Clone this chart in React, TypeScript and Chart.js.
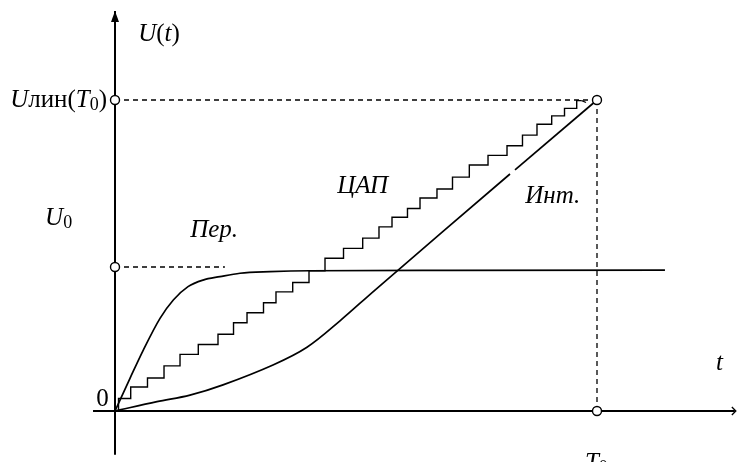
import React, { useEffect, useRef } from "react";
import { Chart, registerables } from "chart.js";

Chart.register(...registerables);

// Normalised units: t / T0 and U / U_lin(T0)
const T0 = 1;
const ULIN = 1;
const U0 = 0.463;

// ЦАП (DAC) staircase: riser positions and the level reached after each riser
const dacT = [0, 0.0073, 0.0326, 0.0674, 0.1017, 0.1349, 0.1728, 0.2137, 0.2459, 0.2739, 0.3081, 0.334, 0.3687, 0.4025, 0.4357, 0.4741, 0.5139, 0.5477, 0.5747, 0.6068, 0.6328, 0.668, 0.7002, 0.7351, 0.7739, 0.8133, 0.8454, 0.8755, 0.906, 0.9326, 0.9579, 0.9683];
const dacU = [0, 0.04, 0.077, 0.106, 0.145, 0.182, 0.214, 0.247, 0.284, 0.316, 0.348, 0.383, 0.413, 0.451, 0.491, 0.523, 0.556, 0.592, 0.623, 0.651, 0.685, 0.714, 0.752, 0.791, 0.822, 0.853, 0.887, 0.922, 0.949, 0.973, 0.998, 0.998];
const dacTickT = [0.9683, 0.9772];
const dacTickU = [0.998, 0.992];

// Пер. (transient) curve
const perT = [0, 0.0311, 0.0587, 0.0934, 0.121, 0.1515, 0.1826, 0.2178, 0.2593, 0.3216, 0.4046, 0.695, 1.141];
const perU = [0, 0.105, 0.196, 0.298, 0.357, 0.4, 0.421, 0.432, 0.443, 0.448, 0.451, 0.452, 0.453];

// Инт. (integrator) curve, drawn in two pieces (small break in the line)
const intT = [0, 0.0871, 0.1556, 0.2241, 0.3278, 0.3983, 0.4668, 0.5394, 0.8195];
const intU = [0, 0.03, 0.051, 0.084, 0.148, 0.205, 0.29, 0.389, 0.762];
const int2T = [0.8299, 1];
const int2U = [0.775, 1];

// marked points (open circles)
const markT = [0, 0, T0, T0];
const markU = [ULIN, U0, ULIN, 0];

// axis extents
const X_AXIS = [-0.0456, 1.286];
const Y_AXIS = [-0.141, 1.286];
const U0_DASH_END = 0.228;

const X_MIN = -0.23859;
const X_MAX = 1.29046;
const Y_MIN = -0.16399;
const Y_MAX = 1.32154;

const pts = (xs: number[], ys: number[]) => xs.map((x, i) => ({ x, y: ys[i] }));

const SERIF = '"Liberation Serif", "Times New Roman", serif';

type Part = { t: string; it?: boolean; sub?: boolean };

export default function App() {
  const ref = useRef<HTMLCanvasElement>(null);

  useEffect(() => {
    const canvas = ref.current;
    if (!canvas) return;

    const drawPlugin = {
      id: "schemeDecor",
      afterDraw(chart: any) {
        const ctx: CanvasRenderingContext2D = chart.ctx;
        const xs = chart.scales.x;
        const ys = chart.scales.y;
        const px = (v: number) => xs.getPixelForValue(v);
        const py = (v: number) => ys.getPixelForValue(v);
        ctx.save();
        ctx.fillStyle = "#000";
        ctx.strokeStyle = "#000";
        // y-axis arrow (filled)
        const ax = px(0);
        const tip = py(Y_AXIS[1]);
        ctx.beginPath();
        ctx.moveTo(ax, tip);
        ctx.lineTo(ax - 4, tip + 11);
        ctx.lineTo(ax + 4, tip + 11);
        ctx.closePath();
        ctx.fill();
        // x-axis arrow (open chevron)
        const xt = px(X_AXIS[1]) + 1;
        const ay = py(0);
        ctx.lineWidth = 1.3;
        ctx.beginPath();
        ctx.moveTo(xt - 4, ay - 4);
        ctx.lineTo(xt, ay);
        ctx.lineTo(xt - 4, ay + 4);
        ctx.stroke();

        const SIZE = 25;
        const fontOf = (p: Part) =>
          `${p.it ? "italic " : ""}${p.sub ? Math.round(SIZE * 0.7) : SIZE}px ${SERIF}`;
        const drawRich = (parts: Part[], x: number, y: number, align: "left" | "right" = "left") => {
          ctx.textBaseline = "alphabetic";
          ctx.textAlign = "left";
          let w = 0;
          for (const p of parts) {
            ctx.font = fontOf(p);
            w += ctx.measureText(p.t).width;
          }
          let cx = align === "right" ? x - w : x;
          for (const p of parts) {
            ctx.font = fontOf(p);
            ctx.fillText(p.t, cx, y + (p.sub ? 3 : 0));
            cx += ctx.measureText(p.t).width;
          }
        };

        drawRich([{ t: "U", it: true }, { t: "(" }, { t: "t", it: true }, { t: ")" }], px(0.048), py(1.19));
        drawRich(
          [{ t: "U", it: true }, { t: "лин" }, { t: "(" }, { t: "T", it: true }, { t: "0", sub: true }, { t: ")" }],
          px(-0.0166),
          py(0.977),
          "right"
        );
        drawRich([{ t: "U", it: true }, { t: "0", sub: true }], px(-0.145), py(0.598));
        drawRich([{ t: "Пер.", it: true }], px(0.156), py(0.559));
        drawRich([{ t: "ЦАП", it: true }], px(0.461), py(0.701));
        drawRich([{ t: "Инт.", it: true }], px(0.851), py(0.669));
        drawRich([{ t: "t", it: true }], px(1.247), py(0.132));
        drawRich([{ t: "0" }], px(-0.039), py(0.016));
        drawRich([{ t: "T", it: true }, { t: "0", sub: true }], px(0.975), py(-0.19));
        ctx.restore();
      },
    };

    const solid = (data: any[], extra: any = {}) => ({
      type: "line",
      data,
      borderColor: "#000",
      borderWidth: 1.7,
      pointRadius: 0,
      fill: false,
      tension: 0,
      ...extra,
    });

    const chart = new Chart(canvas, {
      type: "line",
      data: {
        datasets: [
          {
            type: "scatter",
            data: pts(markT, markU),
            pointRadius: 4.5,
            pointBackgroundColor: "#fff",
            pointBorderColor: "#000",
            pointBorderWidth: 1.4,
            showLine: false,
          } as any,
          solid(pts(X_AXIS, [0, 0]), { borderWidth: 2 }),
          solid(pts([0, 0], Y_AXIS), { borderWidth: 2 }),
          solid(pts([0, T0], [ULIN, ULIN]), { borderWidth: 1.3, borderDash: [5, 4] }),
          solid(pts([T0, T0], [ULIN, 0]), { borderWidth: 1.3, borderDash: [5, 4] }),
          solid(pts([0, U0_DASH_END], [U0, U0]), { borderWidth: 1.3, borderDash: [5, 4] }),
          solid(pts(dacT, dacU), { stepped: true, borderWidth: 1.4 }),
          solid(pts(dacTickT, dacTickU), { borderWidth: 1.2 }),
          solid(pts(perT, perU), { cubicInterpolationMode: "monotone" }),
          solid(pts(intT, intU), { tension: 0.35 }),
          solid(pts(int2T, int2U)),
        ] as any,
      },
      options: {
        animation: false,
        responsive: false,
        maintainAspectRatio: false,
        layout: { padding: 0, autoPadding: false },
        events: [],
        plugins: { legend: { display: false }, tooltip: { enabled: false }, title: { display: false } },
        scales: {
          x: { type: "linear", min: X_MIN, max: X_MAX, display: false },
          y: { type: "linear", min: Y_MIN, max: Y_MAX, display: false },
        },
      },
      plugins: [drawPlugin],
    } as any);

    return () => chart.destroy();
  }, []);

  return (
    <div style={{ position: "absolute", left: 0, top: 0, width: 737, height: 462, background: "#fff" }}>
      <canvas ref={ref} width={737} height={462} style={{ display: "block" }} />
    </div>
  );
}
